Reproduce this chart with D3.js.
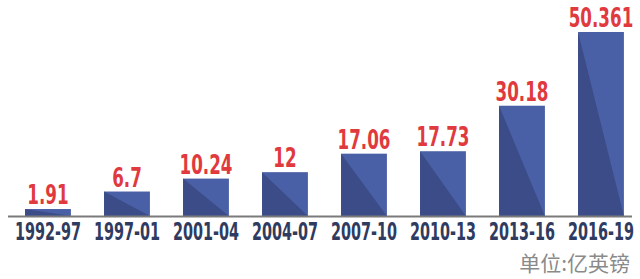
<!DOCTYPE html>
<html>
<head>
<meta charset="utf-8">
<script src="https://cdn.jsdelivr.net/npm/d3@7"></script>
<style>
  body { margin: 0; background: #fff; }
  .x-label { font-family: 'DejaVu Sans', sans-serif; font-weight: bold; fill: #2f3b60; }
  .value { font-family: 'DejaVu Sans', sans-serif; font-weight: bold; fill: #e03a3e; }
  .unit { font-family: 'Noto Sans CJK SC', sans-serif; fill: #8a8a8a; }
</style>
</head>
<body>
<div class="container"></div>
<script>
const periods = ['1992-97', '1997-01', '2001-04', '2004-07', '2007-10', '2010-13', '2013-16', '2016-19'];
const values = [1.91, 6.7, 10.24, 12, 17.06, 17.73, 30.18, 50.361];
const labels = ['1.91', '6.7', '10.24', '12', '17.06', '17.73', '30.18', '50.361'];
const unit = '单位:亿英镑';

const width = 640;
const height = 279;
const baseline = 216;

const svg = d3
  .select('.container')
  .append('svg')
  .attr('width', width)
  .attr('height', height);

const x = d3.scaleBand()
  .domain(periods)
  .range([8.5, 640.5])
  .paddingInner(0.42)
  .paddingOuter(0.21);

const y = d3.scaleLinear()
  .domain([0, 50.361])
  .range([baseline, 32]);

const data = periods.map((p, i) => ({ key: p, value: values[i], label: labels[i] }));

const bars = svg
  .selectAll('.bar')
  .data(data)
  .enter()
  .append('g')
  .attr('class', 'bar');

// light face
bars
  .append('rect')
  .attr('x', d => x(d.key))
  .attr('y', d => y(d.value))
  .attr('width', x.bandwidth())
  .attr('height', d => baseline - y(d.value))
  .attr('fill', '#4a60a6');

// darker lower-left triangle
bars
  .append('path')
  .attr('fill', '#3b4c88')
  .attr('d', d => {
    const x0 = x(d.key);
    const x1 = x0 + x.bandwidth();
    const top = y(d.value);
    return `M${x0},${top}L${x1},${baseline}L${x0},${baseline}Z`;
  });

// condensed look: squeeze the glyphs horizontally
bars
  .append('text')
  .attr('class', 'value')
  .attr('transform', d => `translate(${x(d.key) + x.bandwidth() / 2}, ${y(d.value) - 5}) scale(0.62, 1)`)
  .attr('text-anchor', 'middle')
  .style('font-size', '27px')
  .text(d => d.label);

// axis line
svg
  .append('line')
  .attr('x1', 8)
  .attr('x2', 632)
  .attr('y1', baseline + 0.5)
  .attr('y2', baseline + 0.5)
  .attr('stroke', '#7a7a7a')
  .attr('stroke-width', 2);

svg
  .selectAll('.x-label')
  .data(periods)
  .enter()
  .append('text')
  .attr('class', 'x-label')
  .attr('transform', d => `translate(${x(d) + x.bandwidth() / 2}, 240) scale(0.6, 1)`)
  .attr('text-anchor', 'middle')
  .style('font-size', '24px')
  .text(d => d);

svg
  .append('text')
  .attr('class', 'unit')
  .attr('x', 630)
  .attr('y', 271)
  .attr('text-anchor', 'end')
  .style('font-size', '21px')
  .text(unit);
</script>
</body>
</html>
